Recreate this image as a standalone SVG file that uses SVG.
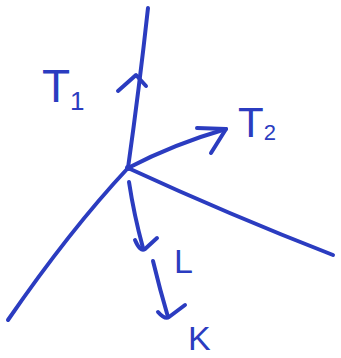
<svg xmlns="http://www.w3.org/2000/svg" width="341" height="358" viewBox="0 0 341 358">
<style>
.s{fill:none;stroke:#2b3cc0;stroke-width:4;stroke-linecap:round;stroke-linejoin:round}
.t{fill:#2b3cc0;font-family:"Liberation Sans",Arial,sans-serif}
</style>
<rect width="341" height="358" fill="#fff"/>
<g id="connectors">
<path class="s" d="M148,8 Q139,90 128,168"/>
<path class="s" d="M118,91 L136,75 L146,86"/>
<path class="s" d="M128,168 Q174,144 226,129"/>
<path class="s" d="M197,128 L226,129 L211,153"/>
<path class="s" d="M128,168 Q70,230 8,320"/>
<path class="s" d="M128,168 Q230,215 333,255"/>
<path class="s" d="M129,182 Q134,215 143,248"/>
<path class="s" d="M135,240 Q140,252 145,249 L157,238"/>
<path class="s" d="M153,261 Q160,290 168,317"/>
<path class="s" d="M158,312 Q165,320 169,317 L185,305"/>
</g>
<g id="center"><circle cx="128" cy="168" r="3" fill="#2b3cc0"/></g>
<g id="T1"><text class="t" x="42" y="102" font-size="46">T<tspan font-size="26" dy="8">1</tspan></text></g>
<g id="T2"><text class="t" x="238" y="137" font-size="42">T<tspan font-size="22" dy="3">2</tspan></text></g>
<g id="L"><text class="t" x="174" y="273" font-size="34">L</text></g>
<g id="K"><text class="t" x="188" y="350" font-size="34">K</text></g>
</svg>
